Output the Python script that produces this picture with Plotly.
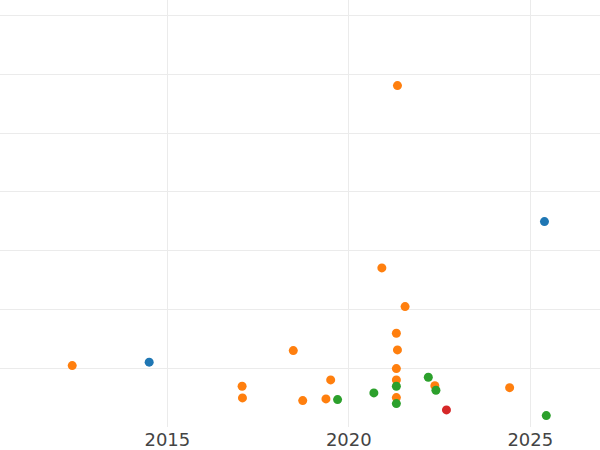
import plotly.graph_objects as go

blue_x = [2014.50, 2025.39]
blue_y = [11.03, 34.95]

orange_x = [2012.38, 2021.34, 2020.91, 2021.55, 2021.31, 2021.34, 2018.47, 2021.31,
            2021.31, 2019.50, 2017.06, 2017.07, 2018.73, 2019.37, 2021.31, 2022.37, 2024.43]
orange_y = [10.45, 58.09, 27.07, 20.49, 15.96, 13.12, 13.00, 9.94,
            8.01, 8.01, 6.94, 4.95, 4.49, 4.78, 5.00, 7.04, 6.70]

green_x = [2021.31, 2021.31, 2019.69, 2020.69, 2022.19, 2022.40, 2025.44]
green_y = [6.94, 3.98, 4.66, 5.80, 8.47, 6.26, 1.94]

red_x = [2022.69]
red_y = [2.91]

x_ticks = [2015, 2020, 2025]
y_ticks = [10, 20, 30, 40, 50, 60, 70]

fig = go.Figure()
for xs, ys, c in [(blue_x, blue_y, "#1f77b4"), (orange_x, orange_y, "#ff7f0e"),
                  (green_x, green_y, "#2ca02c"), (red_x, red_y, "#d62728")]:
    fig.add_trace(go.Scatter(x=xs, y=ys, mode="markers",
                             marker=dict(color=c, size=9), showlegend=False))

fig.update_layout(
    width=600, height=450,
    margin=dict(l=0, r=0, t=0, b=23),
    plot_bgcolor="white", paper_bgcolor="white",
    font=dict(family="DejaVu Sans", size=18, color="#444"),
)
fig.update_xaxes(range=[2010.39, 2026.92], tickvals=x_ticks, showgrid=True,
                 gridcolor="#ebebeb", gridwidth=1, zeroline=False, showline=False,
                 ticks="")
fig.update_yaxes(range=[0, 72.66], tickvals=y_ticks, showticklabels=False,
                 showgrid=True, gridcolor="#ebebeb", gridwidth=1, zeroline=False,
                 showline=False, ticks="")

fig.write_html("out.html", config={"displayModeBar": False},
               post_script="document.body.style.margin='0';document.body.style.overflow='hidden';")
